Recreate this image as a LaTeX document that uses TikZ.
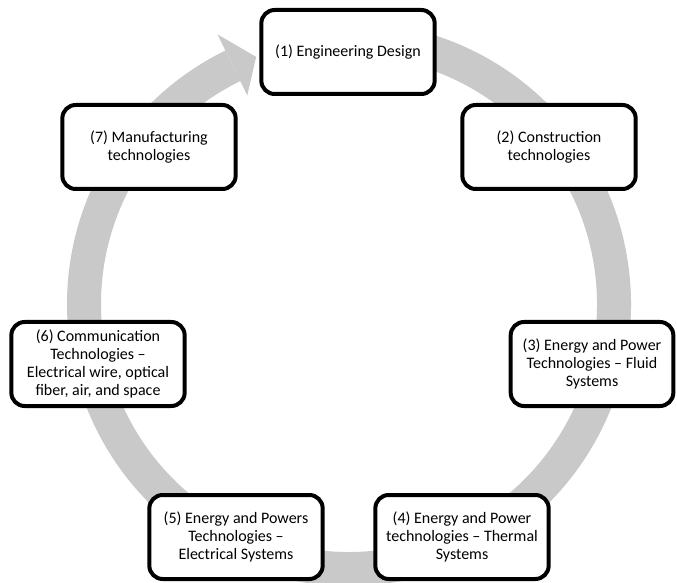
\documentclass[tikz,border=0pt]{standalone}
\usepackage{fontspec}
\setmainfont{Carlito}
\definecolor{ringgray}{RGB}{201,201,201}
\begin{document}
\begin{tikzpicture}[x=0.75pt,y=0.75pt,
  stagebox/.style={draw=black, line width=3pt, rounded corners=10pt, fill=white,
    minimum width=130pt, minimum height=63pt, align=center,
    font=\fontsize{12}{13.4}\selectfont, inner sep=2pt}]
\useasboundingbox (0,0) rectangle (677,582);
\clip (0,0) rectangle (677,582);
\coordinate (C) at (349,278);
% ring
\draw[ringgray, line width=25.5pt] (C) ++(95:265) arc[start angle=95, end angle=-244, radius=198.75pt];
\fill[ringgray, shift={(C)}] (116:300) -- (110.6:264) -- (116:232) -- cycle;
% boxes
\node[stagebox] (n1) at (348,530) {(1) Engineering Design};
\node[stagebox] (n2) at (549,435) {(2) Construction\\technologies};
\node[stagebox, minimum width=122pt] (n3) at (592,218) {(3) Energy and Power\\Technologies – Fluid\\Systems};
\node[stagebox] (n4) at (462,45) {(4) Energy and Power\\technologies – Thermal\\Systems};
\node[stagebox] (n5) at (236,45) {(5) Energy and Powers\\Technologies –\\Electrical Systems};
\node[stagebox] (n6) at (98,218) {(6) Communication\\Technologies –\\Electrical wire, optical\\fiber, air, and space};
\node[stagebox] (n7) at (149,435) {(7) Manufacturing\\technologies};
\end{tikzpicture}
\end{document}
